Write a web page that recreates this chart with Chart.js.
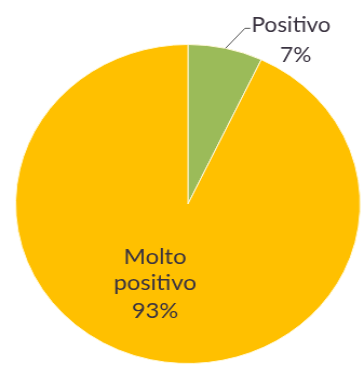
<!DOCTYPE html>
<html>
<head>
<meta charset="utf-8">
<script src="https://cdn.jsdelivr.net/npm/chart.js@4/dist/chart.umd.min.js"></script>
<style>
  html, body { margin: 0; padding: 0; background: #fff; overflow: hidden; }
  #wrap { width: 334px; height: 367px; transform: scaleX(1.08); transform-origin: 0 0; }
</style>
</head>
<body>
<div id="wrap"><canvas id="pie" width="334" height="367"></canvas></div>
<script>
// Survey answers and their shares (percent)
var categories = ['Positivo', 'Molto positivo'];
var shares = [7, 93];
var sliceColors = ['#9bbb59', '#ffc000'];

var textColor = '#3a3340';
var fontFamily = 'Lato, "Open Sans", sans-serif';

/**
 * Writes the category name and percentage next to each slice.
 * The small slice gets an outside label with a leader line,
 * the big one is labelled inside.
 */
var sliceLabels = {
    id: 'sliceLabels',
    afterDatasetsDraw: function(chart) {
        var ctx = chart.ctx;
        var arcs = chart.getDatasetMeta(0).data;
        ctx.save();
        ctx.fillStyle = textColor;
        ctx.textAlign = 'center';
        ctx.textBaseline = 'alphabetic';

        arcs.forEach(function(arc, i) {
            var mid = (arc.startAngle + arc.endAngle) / 2;
            var pct = shares[i] + '%';
            if (i === 0) {
                // Point on the rim where the leader starts
                var ex = arc.x + Math.cos(mid) * arc.outerRadius;
                var ey = arc.y + Math.sin(mid) * arc.outerRadius;
                ctx.strokeStyle = '#555';
                ctx.lineWidth = 1;
                ctx.beginPath();
                ctx.moveTo(ex, ey);
                ctx.lineTo(ex + 18, ey - 20);
                ctx.lineTo(ex + 23, ey - 20);
                ctx.stroke();
                ctx.font = '21px ' + fontFamily;
                ctx.textAlign = 'left';
                ctx.fillText(categories[i], ex + 24, ey - 16);
                ctx.textAlign = 'center';
                ctx.fillText(pct, ex + 65, ey + 14);
            } else {
                var cx = arc.x + Math.cos(mid) * arc.outerRadius * 0.5 - 13;
                var cy = arc.y + Math.sin(mid) * arc.outerRadius * 0.5;
                var words = categories[i].split(' ');
                ctx.font = '22px ' + fontFamily;
                ctx.fillText(words[0], cx, cy - 18);
                ctx.fillText(words[1], cx, cy + 8);
                ctx.fillText(pct, cx, cy + 36);
            }
        });
        ctx.restore();
    }
};

new Chart(document.getElementById('pie'), {
    type: 'pie',
    data: {
        labels: categories,
        datasets: [{
            data: shares,
            backgroundColor: sliceColors,
            borderColor: '#fff8d8',
            borderWidth: 1
        }]
    },
    options: {
        responsive: false,
        animation: false,
        layout: {
            padding: { left: 14, right: 0, top: 44, bottom: 3 }
        },
        plugins: {
            legend: { display: false },
            tooltip: { enabled: false }
        }
    },
    plugins: [sliceLabels]
});
</script>
</body>
</html>
